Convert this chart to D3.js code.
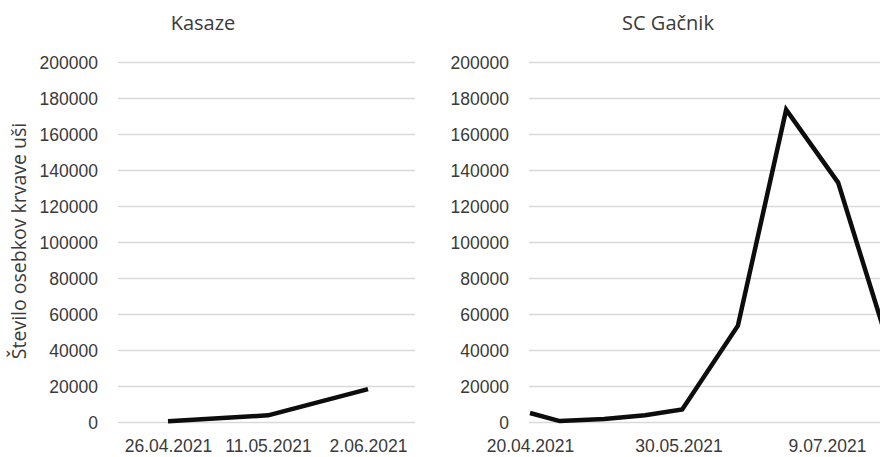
<!DOCTYPE html>
<html>
<head>
<meta charset="utf-8">
<script src="https://cdn.jsdelivr.net/npm/d3@7"></script>
<style>
  html, body { margin: 0; padding: 0; background: #fff; }
  svg { display: block; font-family: "Open Sans", "Noto Sans", sans-serif; }
</style>
</head>
<body>
<svg id="chart" width="880" height="457"></svg>
<script>
// Kasaze: three sampling dates (category axis)
const kasazeDates = ["26.04.2021", "11.05.2021", "2.06.2021"];
const kasazeValues = [400, 3700, 18300];

// SC Gačnik: sampling dates (date axis)
const gacnikDates = ["2021-04-20", "2021-04-28", "2021-05-10", "2021-05-21", "2021-05-31",
                     "2021-06-15", "2021-06-28", "2021-07-12", "2021-07-26"];
const gacnikValues = [5000, 500, 1700, 3700, 7000, 53500, 173500, 133000, 40000];
const gacnikTickDates = ["2021-04-20", "2021-05-30", "2021-07-09"];

const yTicks = [0, 20000, 40000, 60000, 80000, 100000, 120000, 140000, 160000, 180000, 200000];
const titles = ["Kasaze", "SC Gačnik"];
const yAxisTitle = "Število osebkov krvave uši";

const svg = d3.select("#chart");
const textColor = "#3a3a3a";
const gridColor = "#d9d9d9";
const lineColor = "#0d0d0d";

const y = d3.scaleLinear().domain([0, 200000]).range([422, 62]);
const parse = d3.timeParse("%Y-%m-%d");
const fmtDate = d => `${d.getDate()}.${String(d.getMonth() + 1).padStart(2, "0")}.${d.getFullYear()}`;

function drawYAxis(g, left, right) {
  const axis = d3.axisLeft(y).tickValues(yTicks).tickFormat(d3.format("d"))
    .tickSize(-(right - left)).tickPadding(20);
  g.attr("transform", `translate(${left},0)`).call(axis);
  g.select(".domain").remove();
  g.selectAll(".tick line").attr("stroke", gridColor).attr("stroke-width", 1.5);
  g.selectAll(".tick text").attr("fill", textColor).style("font-size", "17.5px")
    .attr("dy", "0.36em");
}

// ---- Left panel: Kasaze ----
const xL = d3.scalePoint().domain(kasazeDates).range([118, 418]).padding(0.5);
drawYAxis(svg.append("g"), 118, 415);

const xAxisL = svg.append("g").attr("transform", "translate(0,422)")
  .call(d3.axisBottom(xL).tickSize(0).tickPadding(18));
xAxisL.select(".domain").remove();
xAxisL.selectAll("text").attr("fill", textColor).style("font-size", "17.5px");

svg.append("path")
  .datum(kasazeValues)
  .attr("fill", "none").attr("stroke", lineColor).attr("stroke-width", 4.5)
  .attr("stroke-linejoin", "round")
  .attr("d", d3.line().x((d, i) => xL(kasazeDates[i])).y(d => y(d)));

svg.append("text").attr("x", 203).attr("y", 30).attr("text-anchor", "middle")
  .attr("fill", textColor).style("font-size", "20px").text(titles[0]);

svg.append("text")
  .attr("transform", "translate(26,241) rotate(-90)")
  .attr("text-anchor", "middle").attr("fill", textColor).style("font-size", "19.5px")
  .text(yAxisTitle);

// ---- Right panel: SC Gačnik ----
const d0 = parse(gacnikDates[0]);
const pxPerDay = 3.7125;
const dEnd = d3.timeDay.offset(d0, 100);
const xR = d3.scaleTime().domain([d0, dEnd]).range([530, 530 + 100 * pxPerDay]);

drawYAxis(svg.append("g"), 529, 905);

const xAxisR = svg.append("g").attr("transform", "translate(0,422)")
  .call(d3.axisBottom(xR).tickValues(gacnikTickDates.map(parse)).tickFormat(fmtDate)
    .tickSize(0).tickPadding(18));
xAxisR.select(".domain").remove();
xAxisR.selectAll("text").attr("fill", textColor).style("font-size", "17.5px");

svg.append("path")
  .datum(gacnikValues)
  .attr("fill", "none").attr("stroke", lineColor).attr("stroke-width", 4.5)
  .attr("stroke-linejoin", "miter")
  .attr("d", d3.line().x((d, i) => xR(parse(gacnikDates[i]))).y(d => y(d)));

svg.append("text").attr("x", 668).attr("y", 30).attr("text-anchor", "middle")
  .attr("fill", textColor).style("font-size", "20px").text(titles[1]);
</script>
</body>
</html>
